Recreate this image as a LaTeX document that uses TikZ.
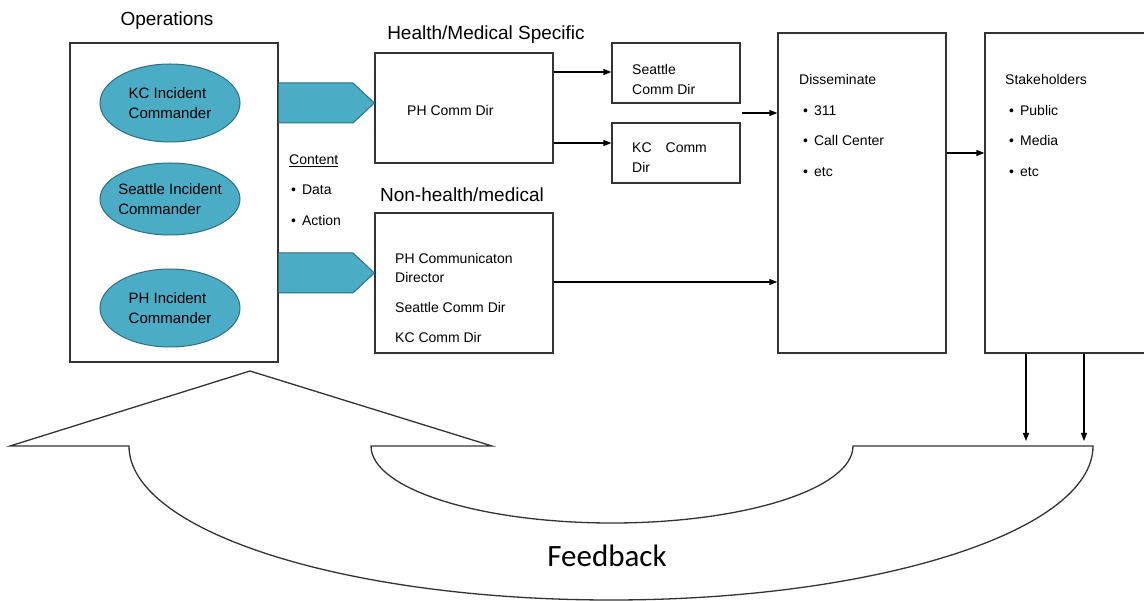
\documentclass[tikz,border=0pt]{standalone}
\usepackage{fontspec}
\setmainfont{Liberation Sans}
\newfontfamily\fbfont{Carlito}
\usetikzlibrary{arrows.meta,shapes.geometric}
\definecolor{tealfill}{HTML}{4BACC6}
\definecolor{tealline}{HTML}{2F6E80}
\definecolor{ln}{HTML}{333333}
\newcommand\bul{\textbullet\hspace{6pt}}
\begin{document}
\begin{tikzpicture}[x=1pt,y=-1pt,
  box/.style={draw=ln,line width=1.3pt,rectangle,inner sep=0},
  cmd/.style={ellipse,draw=tealline,fill=tealfill,line width=1pt,minimum width=140pt,
    minimum height=78pt,align=left,font=\fontsize{15}{20}\selectfont,inner xsep=-4pt,inner ysep=0pt},
  hdr/.style={font=\fontsize{19}{22}\selectfont,inner sep=0},
  txt/.style={font=\fontsize{14}{17}\selectfont,anchor=west,inner sep=0},
  conn/.style={draw=black,line width=1.3pt,-{Triangle[length=8pt,width=6pt]}},
  blk/.style={fill=tealfill},
  blkedge/.style={draw=tealline,line width=1pt},
  fb/.style={draw=ln,line width=1.3pt}]
\useasboundingbox (0,0) rectangle (1144,601);
\clip (0,0) rectangle (1144,601);
\fill[white] (0,0) rectangle (1144,601);

% Operations
\node[hdr] (opslbl) at (167,21) {Operations};
\node[box,minimum width=208pt,minimum height=319pt] (ops) at (174,202.5) {};
\node[cmd] (kc) at (170,103) {KC Incident\\Commander};
\node[cmd,minimum height=72pt] (sic) at (170,199) {Seattle Incident\\Commander};
\node[cmd] (phic) at (170,308) {PH Incident\\Commander};

% Health / non-health boxes
\node[hdr] (hlbl) at (486,35) {Health/Medical Specific};
\node[box,minimum width=178pt,minimum height=110pt] (ph) at (464,108) {};
\node[txt] (phtxt) at (407,111) {PH Comm Dir};
\node[hdr] (nlbl) at (462,195) {Non-health/medical};
\node[box,minimum width=178pt,minimum height=140pt] (nonh) at (464,283) {};
\node[txt] (n1) at (395,258) {PH Communicaton};
\node[txt] (n2) at (395,277) {Director};
\node[txt] (n3) at (395,307) {Seattle Comm Dir};
\node[txt] (n4) at (395,337) {KC Comm Dir};

% Content
\node[txt] (ct) at (289,161) {\underline{Content}};
\node[txt] (ct1) at (291,190) {\bul Data};
\node[txt] (ct2) at (291,220) {\bul Action};

% Block arrows
\path[blk] (ops.east |- 0,83) -- (353,83) -- (ph.west |- 0,103) -- (353,123) -- (ops.east |- 0,123) -- cycle;
\draw[blkedge] (ops.east |- 0,83) -- (353,83) -- (ph.west |- 0,103) -- (353,123) -- (ops.east |- 0,123);
\path[blk] (ops.east |- 0,253) -- (353,253) -- (nonh.west |- 0,273) -- (353,293) -- (ops.east |- 0,293) -- cycle;
\draw[blkedge] (ops.east |- 0,253) -- (353,253) -- (nonh.west |- 0,273) -- (353,293) -- (ops.east |- 0,293);

% Seattle / KC comm dir
\node[box,minimum width=128pt,minimum height=60pt] (sea) at (676,73) {};
\node[txt] (sea1) at (632,70) {Seattle};
\node[txt] (sea2) at (632,90) {Comm Dir};
\node[box,minimum width=128pt,minimum height=60pt] (kcb) at (676,153) {};
\node[txt] (kc1) at (632,148) {KC\hspace{14pt}Comm};
\node[txt] (kc2) at (632,167) {Dir};

% Disseminate
\node[box,minimum width=168pt,minimum height=320pt] (dis) at (862,193) {};
\node[txt] (d1) at (799,80) {Disseminate};
\node[txt] (d2) at (803,111) {\bul 311};
\node[txt] (d3) at (803,141) {\bul Call Center};
\node[txt] (d4) at (803,172) {\bul etc};

% Stakeholders
\node[box,minimum width=170pt,minimum height=320pt] (stk) at (1070,193) {};
\node[txt] (s1) at (1005,80) {Stakeholders};
\node[txt] (s2) at (1009,111) {\bul Public};
\node[txt] (s3) at (1009,141) {\bul Media};
\node[txt] (s4) at (1009,172) {\bul etc};

% connectors
\draw[conn] (ph.east |- 0,72) -- (sea.west |- 0,72);
\draw[conn] (ph.east |- 0,143) -- (kcb.west |- 0,143);
\coordinate (d0) at (742,113);
\draw[conn] (d0) -- (d0 -| dis.west);
\draw[conn] (nonh.east |- 0,282) -- (dis.west |- 0,282);
\draw[conn] (dis.east |- 0,153) -- (stk.west |- 0,153);

% Feedback shape
\draw[fb,line join=miter] (10,446) -- (250,371) -- (492,446) -- (371,446)
  arc[start angle=180,end angle=360,x radius=241pt,y radius=77pt]
  -- (1093,446)
  arc[start angle=0,end angle=-180,x radius=482pt,y radius=154pt]
  -- cycle;
\node[font=\fbfont\fontsize{31}{36}\selectfont,inner sep=0] (fbt) at (607,556) {Feedback};

\coordinate (f1) at (1026,441);
\coordinate (f2) at (1084,441);
\draw[conn] (stk.south -| f1) -- (f1);
\draw[conn] (stk.south -| f2) -- (f2);
\end{tikzpicture}
\end{document}
